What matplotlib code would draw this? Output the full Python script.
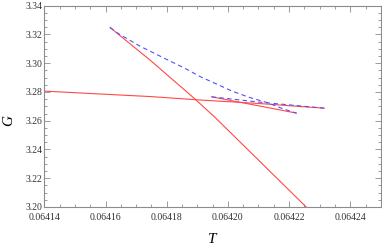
import matplotlib
matplotlib.use("Agg")
import matplotlib.pyplot as plt
from matplotlib.ticker import MultipleLocator, FormatStrFormatter

# branch data (T, G)
t_red_a = [0.0641615, 0.0641746, 0.0641893, 0.0641958, 0.0642255, 0.0642300]
g_red_a = [3.3248, 3.3021, 3.2750, 3.2623, 3.2002, 3.1908]

t_red_b = [0.0641380, 0.0641746, 0.0641909, 0.0642100, 0.0642314]
g_red_b = [3.2808, 3.2768, 3.2744, 3.2720, 3.2687]

t_red_c = [0.0641947, 0.0642080, 0.0642224]
g_red_c = [3.2766, 3.2712, 3.2653]

t_blue_d = [0.0641615, 0.0641642, 0.0641713, 0.0641789, 0.0641860, 0.0641909,
            0.0642017, 0.0642072, 0.0642127, 0.0642181, 0.0642224]
g_blue_d = [3.3248, 3.3206, 3.3118, 3.3038, 3.2964, 3.2907,
            3.2803, 3.2761, 3.2727, 3.2682, 3.2653]

t_blue_e = [0.0641947, 0.0642100, 0.0642317]
g_blue_e = [3.2766, 3.2730, 3.2687]

red = '#ff4848'
blue = '#5050ff'

fig = plt.figure(figsize=(3.82, 2.47), dpi=100)
ax = fig.add_axes([0.116, 0.162, 0.881, 0.815])

ax.plot(t_red_a, g_red_a, color=red, lw=0.8)
ax.plot(t_red_b, g_red_b, color=red, lw=0.8)
ax.plot(t_red_c, g_red_c, color=red, lw=0.8)
ax.plot(t_blue_d, g_blue_d, color=blue, lw=0.8, dashes=(4, 3))
ax.plot(t_blue_e, g_blue_e, color=blue, lw=0.8, dashes=(4, 3))

ax.set_xlim(0.06414, 0.06425)
ax.set_ylim(3.20, 3.34)

ax.xaxis.set_major_locator(MultipleLocator(0.00002))
ax.xaxis.set_minor_locator(MultipleLocator(0.000005))
ax.yaxis.set_major_locator(MultipleLocator(0.02))
ax.yaxis.set_minor_locator(MultipleLocator(0.005))
ax.xaxis.set_major_formatter(FormatStrFormatter('%.5f'))
ax.yaxis.set_major_formatter(FormatStrFormatter('%.2f'))

frame_col = '#8c8c8c'
for s in ax.spines.values():
    s.set_color(frame_col)
    s.set_linewidth(0.8)
ax.tick_params(which='both', direction='in', top=True, right=True,
               color=frame_col, width=0.6, labelsize=7)
ax.tick_params(axis='y', pad=1.5)
ax.tick_params(axis='x', pad=4)
ax.tick_params(which='major', length=4)
ax.tick_params(which='minor', length=2)
for lab in ax.get_xticklabels() + ax.get_yticklabels():
    lab.set_family('Liberation Serif')
    lab.set_color('#333333')

ax.set_xlabel('T', family='Liberation Serif', style='italic', fontsize=11)
ax.xaxis.set_label_coords(0.5, -0.13)
ax.set_ylabel('G', family='Liberation Serif', style='italic', fontsize=11)
ax.yaxis.set_label_coords(-0.088, 0.43)

fig.savefig('out.png', dpi=100)
